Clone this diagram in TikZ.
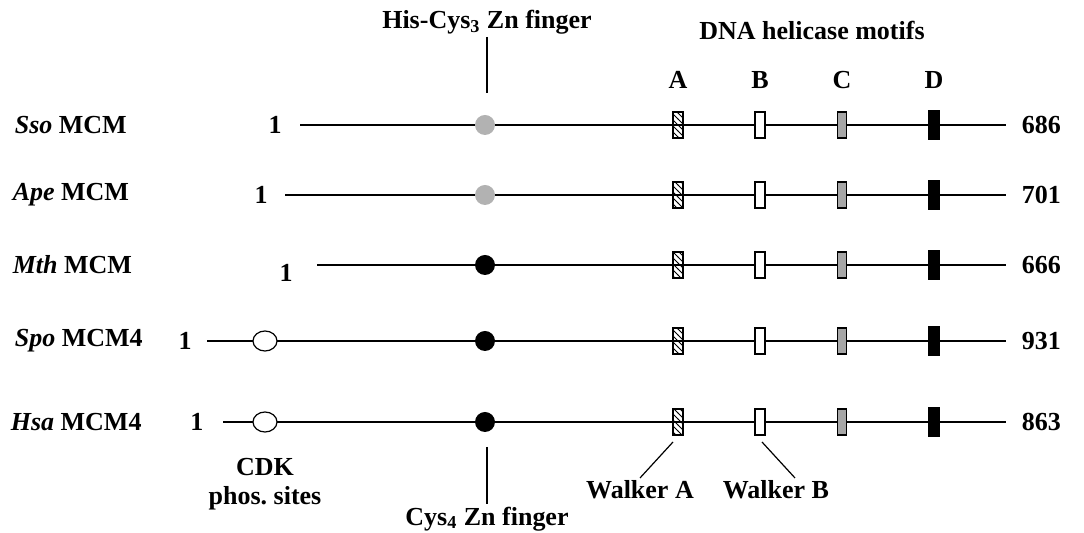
\documentclass[tikz,border=0pt]{standalone}
\usepackage{fontspec}
\setmainfont{Liberation Serif}
\usetikzlibrary{patterns,shapes.geometric}

\begin{document}
\begin{tikzpicture}[x=0.5pt, y=-0.5pt, line width=0.8pt,
		font=\fontsize{13}{15}\selectfont\bfseries, inner sep=1pt,
		rowlabel/.style={anchor=west},
		motif/.style={draw, line width=0.6pt, inner sep=0pt, minimum width=5pt, minimum height=13pt},
		zinc/.style={circle, inner sep=0pt, minimum size=10pt},
		cdk/.style={ellipse, draw, fill=white, line width=0.6pt, inner sep=0pt, minimum width=12pt, minimum height=10pt}]
		\useasboundingbox (0,0) rectangle (1084,533);
		% protein names
		\node [rowlabel] (sso) at (12, 125) {\textit{Sso} MCM};
		\node [rowlabel] (ape) at (10, 195) {\textit{Ape} MCM};
		\node [rowlabel] (mth) at (10, 265) {\textit{Mth} MCM};
		\node [rowlabel] (spo) at (12, 341) {\textit{Spo} MCM4};
		\node [rowlabel] (hsa) at (8, 422) {\textit{Hsa} MCM4};
		% first residue
		\node (sso-one) at (275, 125) {1};
		\node (ape-one) at (261, 195) {1};
		\node (mth-one) at (286, 273) {1};
		\node (spo-one) at (185, 341) {1};
		\node (hsa-one) at (197, 422) {1};
		% last residue
		\node [anchor=west] (sso-len) at (1019, 125) {686};
		\node [anchor=west] (ape-len) at (1019, 195) {701};
		\node [anchor=west] (mth-len) at (1019, 265) {666};
		\node [anchor=west] (spo-len) at (1019, 341) {931};
		\node [anchor=west] (hsa-len) at (1019, 422) {863};
		% backbones
		\coordinate (sso-s) at (300, 125);
		\coordinate (ape-s) at (285, 195);
		\coordinate (mth-s) at (317, 265);
		\coordinate (spo-s) at (207, 341);
		\coordinate (hsa-s) at (223, 422);
		\foreach \r/\y in {sso/125, ape/195, mth/265, spo/341, hsa/422} {
			\coordinate (\r-e) at (1006, \y);
			\draw (\r-s) -- (\r-e);
			\node [motif, pattern=north west lines] (\r-A) at (678, \y) {};
			\node [motif, fill=white] (\r-B) at (760, \y) {};
			\node [motif, fill=gray!70, minimum width=4.3pt] (\r-C) at (842, \y) {};
			\node [motif, fill=black, minimum width=5.8pt, minimum height=14pt] (\r-D) at (934, \y) {};
		}
		% zinc fingers
		\node [zinc, fill=gray!60] (sso-zn) at (485, 125) {};
		\node [zinc, fill=gray!60] (ape-zn) at (485, 195) {};
		\node [zinc, fill=black] (mth-zn) at (485, 265) {};
		\node [zinc, fill=black] (spo-zn) at (485, 341) {};
		\node [zinc, fill=black] (hsa-zn) at (485, 422) {};
		% CDK sites
		\node [cdk] (spo-cdk) at (265, 341) {};
		\node [cdk] (hsa-cdk) at (265, 422) {};
		% motif letters
		\node (A) at (678, 80) {A};
		\node (B) at (760, 80) {B};
		\node (C) at (842, 80) {C};
		\node (D) at (934, 80) {D};
		\node (helicase) at (812, 30) {DNA helicase motifs};
		% annotations
		\node (his) at (487, 22) {His-Cys\textsubscript{3} Zn finger};
		\coordinate (his-end) at (487, 93);
		\draw [line width=0.6pt] (his) -- (his-end);
		\node (cys) at (487, 519) {Cys\textsubscript{4} Zn finger};
		\coordinate (cys-top) at (487, 447);
		\draw [line width=0.6pt] (cys-top) -- (cys.north);
		\node (cdk-a) at (265, 467) {CDK};
		\node (cdk-b) at (265, 498) {phos.\ sites};
		\node (wa) at (640, 490) {Walker A};
		\coordinate (wa-top) at (673, 442);
		\draw [line width=0.6pt] (wa-top) -- (wa.north);
		\node (wb) at (776, 490) {Walker B};
		\coordinate (wb-top) at (762, 442);
		\draw [line width=0.6pt] (wb-top) -- (wb.north -| 795,0);
	\end{tikzpicture}
\end{document}
